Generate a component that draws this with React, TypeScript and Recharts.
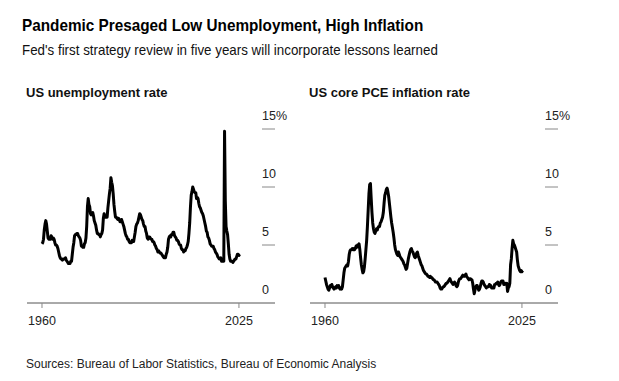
import { Line, LineChart, XAxis, YAxis } from "recharts";

const START_YEAR = 1960;
const X_TICKS = [1960, 2025];
const Y_TICKS = [0, 5, 10, 15];

// Quarterly readings, 1960 Q1 onwards (%)
const unemployment = [
  5.1, 5.2, 5.5, 6.3, 6.8, 7.1, 6.8, 6.2, 5.6, 5.5, 5.6, 5.5, 5.8, 5.7, 5.5, 5.6,
  5.5, 5.2, 5.0, 5.0, 4.9, 4.7, 4.4, 4.1, 3.9, 3.8, 3.8, 3.7, 3.8, 3.8, 3.8, 3.9,
  3.7, 3.6, 3.5, 3.4, 3.4, 3.4, 3.6, 3.6, 4.2, 4.8, 5.2, 5.8, 5.9, 5.9, 6.0, 6.0,
  5.8, 5.7, 5.6, 5.4, 4.9, 4.9, 4.8, 4.8, 5.1, 5.2, 5.6, 6.6, 8.3, 9.0, 8.5, 8.3,
  7.7, 7.6, 7.7, 7.8, 7.5, 7.1, 6.9, 6.7, 6.3, 6.0, 6.0, 5.9, 5.9, 5.7, 5.9, 6.0,
  6.3, 7.3, 7.7, 7.4, 7.4, 7.4, 7.4, 8.2, 8.8, 9.4, 9.9, 10.8, 10.4, 10.1, 9.4, 8.5,
  7.9, 7.4, 7.4, 7.3, 7.2, 7.3, 7.2, 7.0, 7.0, 7.2, 7.0, 6.8, 6.6, 6.3, 6.0, 5.8,
  5.7, 5.5, 5.5, 5.3, 5.2, 5.2, 5.2, 5.4, 5.3, 5.3, 5.7, 6.1, 6.6, 6.8, 6.9, 7.1,
  7.4, 7.7, 7.6, 7.4, 7.2, 7.1, 6.8, 6.6, 6.6, 6.2, 6.0, 5.6, 5.5, 5.7, 5.7, 5.6,
  5.5, 5.5, 5.3, 5.3, 5.2, 5.0, 4.9, 4.7, 4.6, 4.4, 4.5, 4.4, 4.3, 4.3, 4.2, 4.1,
  4.0, 3.9, 4.0, 3.9, 4.2, 4.4, 4.8, 5.5, 5.7, 5.8, 5.7, 5.9, 5.9, 6.1, 6.1, 5.8,
  5.7, 5.6, 5.4, 5.4, 5.3, 5.1, 5.0, 5.0, 4.7, 4.6, 4.6, 4.4, 4.5, 4.5, 4.7, 4.8,
  5.0, 5.3, 6.0, 6.9, 8.3, 9.3, 9.6, 10.0, 9.8, 9.6, 9.5, 9.5, 9.0, 9.1, 9.0, 8.6,
  8.3, 8.2, 8.0, 7.8, 7.7, 7.5, 7.2, 6.9, 6.6, 6.2, 6.1, 5.7, 5.6, 5.4, 5.1, 5.0,
  4.9, 4.9, 4.9, 4.7, 4.6, 4.4, 4.3, 4.2, 4.0, 3.9, 3.8, 3.8, 3.9, 3.6, 3.6, 3.6,
  3.6, 14.8, 8.8, 6.6, 6.2, 5.9, 5.1, 4.2, 3.8, 3.6, 3.6, 3.6, 3.5, 3.6, 3.7, 3.8,
  3.8, 4.0, 4.2, 4.2, 4.1, 4.2,
];

const corePce = [
  2.2, 1.9, 1.6, 1.4, 1.2, 1.1, 1.3, 1.5, 1.4, 1.6, 1.4, 1.3, 1.2, 1.3, 1.4, 1.3,
  1.5, 1.4, 1.5, 1.3, 1.2, 1.3, 1.2, 1.4, 2.0, 2.6, 3.0, 3.1, 3.2, 3.3, 3.2, 3.6,
  4.2, 4.5, 4.6, 4.6, 4.7, 4.6, 4.7, 4.6, 4.7, 4.9, 4.8, 5.0, 4.9, 5.1, 4.6, 3.9,
  3.3, 2.9, 2.6, 2.7, 3.1, 3.8, 4.6, 5.4, 6.6, 8.0, 9.4, 10.2, 10.3, 9.0, 7.8, 6.9,
  6.4, 6.1, 6.0, 6.2, 6.4, 6.3, 6.5, 6.6, 6.6, 6.9, 7.0, 7.2, 7.4, 7.8, 8.6, 9.3,
  9.5, 9.8, 9.9, 9.6, 9.2, 8.6, 8.0, 7.4, 6.9, 6.5, 6.1, 5.6, 5.0, 4.6, 4.4, 4.2,
  4.1, 4.4, 4.2, 4.0, 3.9, 3.8, 3.7, 3.6, 3.4, 3.3, 3.1, 2.9, 3.0, 3.4, 3.8, 4.1,
  4.4, 4.6, 4.7, 4.5, 4.4, 4.2, 4.0, 3.9, 4.0, 4.3, 4.4, 4.1, 3.9, 3.7, 3.5, 3.3,
  3.2, 3.0, 2.8, 2.7, 2.6, 2.5, 2.5, 2.4, 2.3, 2.3, 2.2, 2.3, 2.2, 2.2, 2.1, 2.0,
  2.0, 1.9, 1.8, 1.8, 1.8, 1.7, 1.6, 1.5, 1.3, 1.2, 1.2, 1.3, 1.4, 1.4, 1.5, 1.6,
  1.7, 1.7, 1.8, 1.9, 2.0, 2.1, 1.9, 1.8, 1.7, 1.6, 1.7, 1.8, 1.7, 1.5, 1.4, 1.5,
  1.8, 2.0, 2.1, 2.1, 2.2, 2.3, 2.4, 2.3, 2.3, 2.4, 2.5, 2.3, 2.2, 2.1, 2.0, 2.1,
  2.1, 2.0, 2.0, 1.7, 1.2, 0.8, 1.1, 1.4, 1.5, 1.5, 1.3, 1.1, 1.2, 1.4, 1.7, 1.9,
  1.9, 1.8, 1.6, 1.5, 1.4, 1.3, 1.4, 1.4, 1.4, 1.6, 1.5, 1.5, 1.3, 1.3, 1.3, 1.3,
  1.6, 1.6, 1.7, 1.7, 1.8, 1.6, 1.5, 1.6, 1.8, 1.9, 1.9, 1.9, 1.6, 1.6, 1.7, 1.6,
  1.7, 1.0, 1.3, 1.4, 1.7, 3.3, 3.8, 4.7, 5.4, 5.1, 5.0, 4.8, 4.6, 4.4, 3.7, 3.2,
  3.0, 2.8, 2.7, 2.8, 2.7, 2.8,
];

const unemploymentRows = unemployment.map((v, i) => ({ year: START_YEAR + i / 4, v }));
const pceRows = corePce.map((v, i) => ({ year: START_YEAR + i / 4, v }));

const FONT = '"Liberation Sans", Arial, Helvetica, sans-serif';
const W = 300;
const H = 233;
const M = { top: 29, right: 25, left: 27, bottom: 0 };
const PLOT_RIGHT = W - M.right;
const STUB = 13;

function YTick(props: any) {
  const { y, payload } = props;
  const label = payload.value === 15 ? "15%" : String(payload.value);
  return (
    <g>
      {payload.value !== 0 && (
        <line x1={PLOT_RIGHT - STUB} x2={PLOT_RIGHT} y1={y} y2={y} stroke="#888" strokeWidth={1} />
      )}
      <text x={PLOT_RIGHT - STUB} y={y - 9} fontSize={12.5} fill="#222" fontFamily={FONT} textAnchor="start">
        {label}
      </text>
    </g>
  );
}

function Panel({ title, rows, left }: { title: string; rows: { year: number; v: number }[]; left: number }) {
  return (
    <div style={{ position: "absolute", left, top: 0 }}>
      <div
        style={{
          position: "absolute",
          left: M.left - 1,
          top: 85.7,
          fontFamily: FONT,
          fontWeight: 700,
          fontSize: 13,
          lineHeight: "13px",
          whiteSpace: "nowrap",
          color: "#111",
        }}
      >
        {title}
      </div>
      <div style={{ position: "absolute", left: 0, top: 100 }}>
        <LineChart width={W} height={H} data={rows} margin={M}>
          <XAxis
            dataKey="year"
            type="number"
            domain={[1955.05, 2036.9]}
            ticks={X_TICKS}
            allowDataOverflow
            height={30}
            axisLine={{ stroke: "#555" }}
            tickLine={{ stroke: "#888" }}
            tickSize={5}
            tickMargin={8}
            tick={{ fontSize: 12.5, fill: "#222", fontFamily: FONT }}
          />
          <YAxis
            orientation="right"
            mirror
            width={30}
            domain={[0, 15]}
            ticks={Y_TICKS}
            interval={0}
            axisLine={false}
            tickLine={false}
            tick={(p: any) => <YTick {...p} />}
          />
          <Line
            type="linear"
            dataKey="v"
            stroke="#000"
            strokeWidth={3}
            strokeLinejoin="round"
            dot={false}
            isAnimationActive={false}
          />
        </LineChart>
      </div>
    </div>
  );
}

export default function App() {
  return (
    <div
      style={{
        position: "absolute",
        left: 0,
        top: 0,
        width: 619,
        height: 381,
        background: "#fff",
        fontFamily: FONT,
        overflow: "hidden",
      }}
    >
      <div
        style={{
          position: "absolute",
          left: 22,
          top: 17.3,
          fontSize: 17,
          lineHeight: "17px",
          fontWeight: 700,
          whiteSpace: "nowrap",
          color: "#000",
          transform: "scaleX(0.9)",
          transformOrigin: "left top",
        }}
      >
        Pandemic Presaged Low Unemployment, High Inflation
      </div>
      <div
        style={{
          position: "absolute",
          left: 22,
          top: 42.3,
          fontSize: 15,
          lineHeight: "15px",
          whiteSpace: "nowrap",
          color: "#111",
          transform: "scaleX(0.89)",
          transformOrigin: "left top",
        }}
      >
        Fed's first strategy review in five years will incorporate lessons learned
      </div>
      <Panel title="US unemployment rate" rows={unemploymentRows} left={0} />
      <Panel title="US core PCE inflation rate" rows={pceRows} left={283} />
      <div
        style={{
          position: "absolute",
          left: 26,
          top: 358.1,
          fontSize: 12,
          lineHeight: "12px",
          whiteSpace: "nowrap",
          color: "#222",
        }}
      >
        Sources: Bureau of Labor Statistics, Bureau of Economic Analysis
      </div>
    </div>
  );
}
